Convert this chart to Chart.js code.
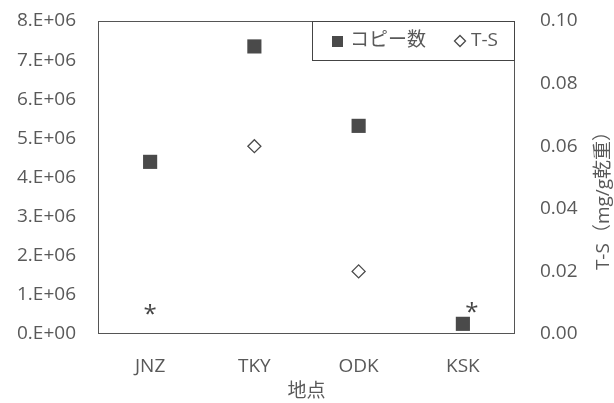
<!DOCTYPE html>
<html>
<head>
<meta charset="utf-8">
<script src="https://cdn.jsdelivr.net/npm/chart.js@4.4.0/dist/chart.umd.min.js"></script>
<style>
  html, body { margin: 0; padding: 0; background: #fff; }
  #wrap { width: 614px; height: 403px; position: relative; }
</style>
</head>
<body>
<div id="wrap"><canvas id="chart"></canvas></div>
<script>
// ─── Data ─────────────────────────────────────────────────────────────────────
const sites = ['JNZ', 'TKY', 'ODK', 'KSK'];
const copyNumbers = [4.4e6, 7.35e6, 5.32e6, 0.26e6];
const tsValues = [null, 0.060, 0.020, null];
// T-S not detected: asterisk marks (right-axis units)
const ndMarks = [0.0077, null, null, 0.0083];
const leftTicks = [0, 1e6, 2e6, 3e6, 4e6, 5e6, 6e6, 7e6, 8e6];
const rightTicks = [0, 0.02, 0.04, 0.06, 0.08, 0.10];
const rightTitle = 'T-S（mg/g乾重）';

const FONT = "'Open Sans', 'Noto Sans CJK JP', sans-serif";
const FS = 19;
const TEXT = '#595959';
const MARK = '#4a4a4a';

// fixed box sizes so the plot area lands where the original has it
function fitBox(size) {
  return s => {
    if (s.isHorizontal()) s.height = size; else s.width = size;
    s.paddingTop = 0; s.paddingBottom = 0; s.paddingLeft = 0; s.paddingRight = 0;
  };
}

// ─── Plot frame, legend, asterisks, right title ──────────────────────────────
const framePlugin = {
  id: 'frame',
  afterDatasetsDraw(chart) {
    const { ctx, chartArea: a, scales } = chart;
    ctx.save();
    ctx.strokeStyle = '#555';
    ctx.lineWidth = 1;
    ctx.strokeRect(a.left + 0.5, a.top + 0.5, a.right - a.left - 1, a.bottom - a.top - 1);

    // asterisks for not-detected
    ctx.fillStyle = '#444';
    ctx.font = "24px " + FONT;
    ctx.textAlign = 'center';
    ctx.textBaseline = 'middle';
    ndMarks.forEach((v, i) => {
      if (v == null) return;
      const x = scales.x.getPixelForValue(i) + (i === sites.length - 1 ? 9 : 0);
      const y = scales.y1.getPixelForValue(v) + 5;
      ctx.fillText('*', x, y);
    });

    // legend box in top-right corner
    const bw = 203, bh = 40;
    const bx = a.right - bw, by = a.top;
    ctx.fillStyle = '#fff';
    ctx.fillRect(bx, by, bw, bh);
    ctx.strokeStyle = '#444';
    ctx.strokeRect(bx + 0.5, by + 0.5, bw - 1, bh - 1);
    const cy = by + bh / 2;
    ctx.fillStyle = MARK;
    ctx.fillRect(bx + 20, cy - 5, 11, 11);
    ctx.fillStyle = TEXT;
    ctx.font = FS + "px " + FONT;
    ctx.textAlign = 'left';
    ctx.fillText(chart.data.datasets[0].label, bx + 38, cy);
    ctx.strokeStyle = MARK;
    ctx.lineWidth = 1.3;
    ctx.beginPath();
    const dx = bx + 148;
    ctx.moveTo(dx, cy - 5.5); ctx.lineTo(dx + 5.5, cy); ctx.lineTo(dx, cy + 5.5); ctx.lineTo(dx - 5.5, cy); ctx.closePath();
    ctx.stroke();
    ctx.fillText(chart.data.datasets[1].label, bx + 159, cy);

    // right axis title, reading bottom to top
    ctx.translate(604, 196);
    ctx.rotate(-Math.PI / 2);
    ctx.textAlign = 'center';
    ctx.fillText(rightTitle, 0, 0);
    ctx.restore();
  }
};

// ─── Chart ────────────────────────────────────────────────────────────────────
new Chart(document.getElementById('chart'), {
  type: 'line',
  data: {
    labels: sites,
    datasets: [
      {
        label: 'コピー数', data: copyNumbers, yAxisID: 'y', showLine: false,
        pointStyle: 'rect', pointRadius: 10, pointBackgroundColor: MARK, pointBorderColor: MARK, pointBorderWidth: 0
      },
      {
        label: 'T-S', data: tsValues, yAxisID: 'y1', showLine: false,
        pointStyle: 'rectRot', pointRadius: 6.5, pointBackgroundColor: '#fff', pointBorderColor: MARK, pointBorderWidth: 1.3
      }
    ]
  },
  options: {
    responsive: true, maintainAspectRatio: false, animation: false,
    layout: { autoPadding: false, padding: { left: 0, right: 0, top: 21, bottom: 0 } },
    plugins: { legend: { display: false }, tooltip: { enabled: false } },
    scales: {
      x: {
        offset: true,
        grid: { display: false, drawTicks: false }, border: { display: false },
        afterFit: fitBox(69),
        ticks: { color: TEXT, font: { family: FONT, size: FS }, padding: 21 },
        title: { display: true, text: '地点', color: TEXT, font: { family: FONT, size: FS }, padding: { top: 0, bottom: 0 } }
      },
      y: {
        position: 'left', min: 0, max: 8e6,
        grid: { display: false, drawTicks: false }, border: { display: false },
        afterFit: fitBox(98),
        afterBuildTicks: s => { s.ticks = leftTicks.map(v => ({ value: v })); },
        ticks: {
          color: TEXT, font: { family: FONT, size: FS }, padding: 22,
          callback: v => v === 0 ? '0.E+00' : (v / 1e6) + '.E+06'
        }
      },
      y1: {
        position: 'right', min: 0, max: 0.10,
        grid: { display: false, drawTicks: false }, border: { display: false },
        afterFit: fitBox(99),
        afterBuildTicks: s => { s.ticks = rightTicks.map(v => ({ value: v })); },
        ticks: {
          color: TEXT, font: { family: FONT, size: FS }, padding: 25,
          callback: v => v.toFixed(2)
        }
      }
    }
  },
  plugins: [framePlugin]
});
</script>
</body>
</html>
